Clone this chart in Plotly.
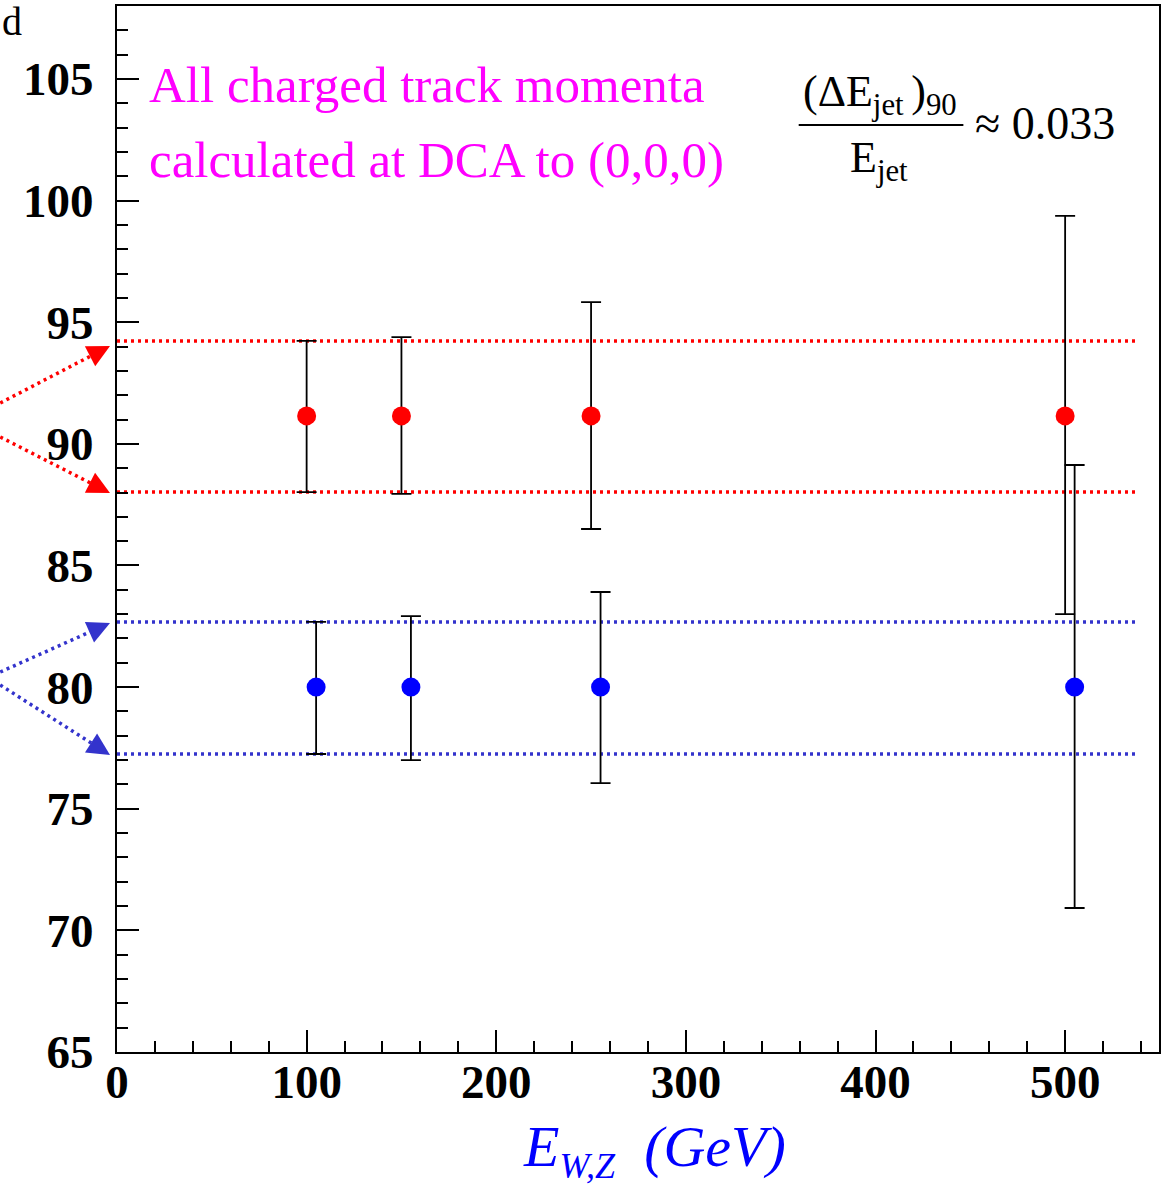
import plotly.graph_objects as go

# ---------------- data ----------------
red_x = [100, 150, 250, 500]
red_y = [91.15, 91.15, 91.15, 91.15]
red_upper = [94.23, 94.39, 95.83, 99.37]
red_lower = [88.02, 87.94, 86.50, 83.00]

blue_x = [105, 155, 255, 505]
blue_y = [80.0, 80.0, 80.0, 80.0]
blue_upper = [82.68, 82.92, 83.91, 89.13]
blue_lower = [77.25, 77.00, 76.05, 70.92]

red_band = [94.23, 88.02]
blue_band = [82.68, 77.25]
band_x_end = 537

x_ticks = [0, 100, 200, 300, 400, 500]
y_ticks = [65, 70, 75, 80, 85, 90, 95, 100, 105]

# ---------------- layout geometry ----------------
W, H = 1164, 1188
L, R, T, B = 117, 3, 6, 136
PW, PH = W - L - R, H - T - B


def pp(px, py):
    """pixel -> paper coordinates (decorations only)"""
    return (px - L) / PW, (H - B - py) / PH


SERIF = "Liberation Serif"
RED = "#FF0000"
BLUE_PT = "#0000FF"
BLUE_LN = "#3333CC"
DOT = "3px,4px"

fig = go.Figure()

fig.add_trace(go.Scatter(
    x=red_x, y=red_y, mode="markers",
    marker=dict(color=RED, size=19),
    error_y=dict(type="data", symmetric=False,
                 array=[u - v for u, v in zip(red_upper, red_y)],
                 arrayminus=[v - d for v, d in zip(red_y, red_lower)],
                 color="black", thickness=1.8, width=10),
    showlegend=False))

fig.add_trace(go.Scatter(
    x=blue_x, y=blue_y, mode="markers",
    marker=dict(color=BLUE_PT, size=19),
    error_y=dict(type="data", symmetric=False,
                 array=[u - v for u, v in zip(blue_upper, blue_y)],
                 arrayminus=[v - d for v, d in zip(blue_y, blue_lower)],
                 color="black", thickness=1.8, width=10),
    showlegend=False))

shapes = []
for yv in red_band:
    shapes.append(dict(type="line", xref="x", yref="y", x0=0, x1=band_x_end, y0=yv, y1=yv,
                       line=dict(color=RED, width=3.5, dash=DOT), layer="below"))
for yv in blue_band:
    shapes.append(dict(type="line", xref="x", yref="y", x0=0, x1=band_x_end, y0=yv, y1=yv,
                       line=dict(color=BLUE_LN, width=3.5, dash=DOT), layer="below"))

annotations = []

# arrows from outside the frame (tail px, tip px, colour)
arrows = [
    ((0, 403), (110, 346), RED),
    ((0, 437), (110, 493), RED),
    ((0, 672), (110, 623), BLUE_LN),
    ((0, 685), (110, 755), BLUE_LN),
]
for (tx, ty), (hx, hy), col in arrows:
    dx, dy = hx - tx, hy - ty
    n = (dx * dx + dy * dy) ** 0.5
    ux, uy = dx / n, dy / n
    ex, ey = hx - ux * 14, hy - uy * 14
    x0, y0 = pp(tx, ty)
    x1, y1 = pp(ex, ey)
    shapes.append(dict(type="line", xref="paper", yref="paper", x0=x0, y0=y0, x1=x1, y1=y1,
                       line=dict(color=col, width=3.5, dash=DOT)))
    hxp, hyp = pp(hx, hy)
    annotations.append(dict(x=hxp, y=hyp, xref="paper", yref="paper", text=" ",
                            showarrow=True, arrowhead=2, arrowsize=1.8, arrowwidth=2.5,
                            arrowcolor=col, ax=-ux * 60, ay=-uy * 60,
                            axref="pixel", ayref="pixel", startstandoff=48,
                            font=dict(size=1)))

# magenta text
for txt, cy in [("All charged track momenta", 85), ("calculated at DCA to (0,0,0)", 160)]:
    x, y = pp(147, cy)
    annotations.append(dict(x=x, y=y, xref="paper", yref="paper", text=txt, showarrow=False,
                            xanchor="left", yanchor="middle",
                            font=dict(family=SERIF, size=51, color="#FF00FF")))

# formula
x, y = pp(881, 94)
annotations.append(dict(x=x, y=y, xref="paper", yref="paper",
                        text="(ΔE<sub>jet </sub>)<sub>90</sub>", showarrow=False,
                        xanchor="center", yanchor="middle",
                        font=dict(family=SERIF, size=44, color="black")))
x, y = pp(880, 160)
annotations.append(dict(x=x, y=y, xref="paper", yref="paper",
                        text="E<sub>jet</sub>", showarrow=False,
                        xanchor="center", yanchor="middle",
                        font=dict(family=SERIF, size=44, color="black")))
x, y = pp(975, 123)
annotations.append(dict(x=x, y=y, xref="paper", yref="paper",
                        text="≈ 0.033", showarrow=False,
                        xanchor="left", yanchor="middle",
                        font=dict(family=SERIF, size=46, color="black")))
x0, y0 = pp(800, 125)
x1, _ = pp(965, 125)
shapes.append(dict(type="line", xref="paper", yref="paper", x0=x0, x1=x1, y0=y0, y1=y0,
                   line=dict(color="black", width=2)))

# panel letter
x, y = pp(0, 22)
annotations.append(dict(x=x, y=y, xref="paper", yref="paper", text="d", showarrow=False,
                        xanchor="left", yanchor="middle",
                        font=dict(family=SERIF, size=40, color="black")))

# x-axis title
x, y = pp(656, 1150)
annotations.append(dict(x=x, y=y, xref="paper", yref="paper",
                        text="<i>E<sub><span style='font-size:36px'>W,Z</span></sub>  (GeV)</i>",
                        showarrow=False, xanchor="center", yanchor="middle",
                        font=dict(family=SERIF, size=58, color=BLUE_PT)))

tickfont = dict(family=SERIF, size=47, color="black", weight="bold")
axis_common = dict(showgrid=False, zeroline=False, showline=True, linewidth=2,
                   linecolor="black", mirror=True, ticks="inside", ticklen=22,
                   tickwidth=2, tickcolor="black", tickfont=tickfont)

fig.update_layout(
    width=W, height=H,
    margin=dict(l=L, r=R, t=T, b=B, pad=0),
    paper_bgcolor="white", plot_bgcolor="white",
    xaxis=dict(range=[0, 549.5], tickmode="array", tickvals=x_ticks,
               ticktext=[str(v) for v in x_ticks], ticklabelstandoff=-12,
               minor=dict(ticks="inside", ticklen=11, tickwidth=2, tickcolor="black",
                          dtick=20, tick0=0, showgrid=False),
               **axis_common),
    yaxis=dict(range=[65, 108], tickmode="array", tickvals=y_ticks,
               ticktext=[str(v) for v in y_ticks], ticklabelstandoff=12,
               minor=dict(ticks="inside", ticklen=11, tickwidth=2, tickcolor="black",
                          dtick=1, tick0=65, showgrid=False),
               **axis_common),
    shapes=shapes,
    annotations=annotations,
)

fig.write_html("out.html")
